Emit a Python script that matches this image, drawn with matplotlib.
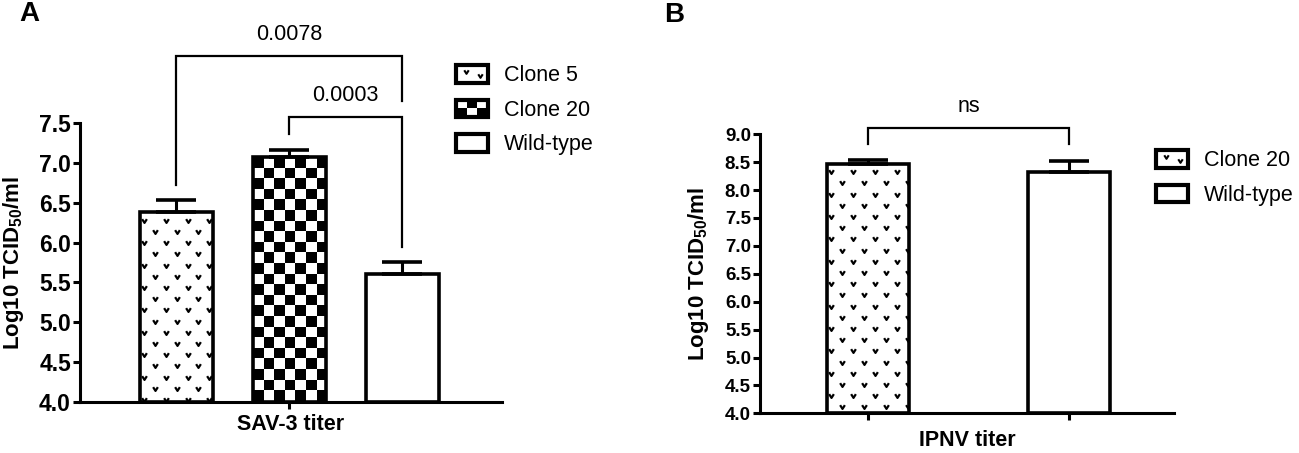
import numpy as np
import matplotlib
matplotlib.use('Agg')
import matplotlib.pyplot as plt
from matplotlib.patches import Patch, Rectangle
from matplotlib.lines import Line2D
from matplotlib.path import Path
from matplotlib.legend_handler import HandlerBase

plt.rcParams['font.family'] = ['Liberation Sans', 'DejaVu Sans']
plt.rcParams['mathtext.fontset'] = 'custom'
plt.rcParams['mathtext.rm'] = 'Liberation Sans'
plt.rcParams['mathtext.bf'] = 'Liberation Sans:bold'

# SAV-3 panel
sav_groups = ['Clone 5', 'Clone 20', 'Wild-type']
sav_means = [6.38, 7.08, 5.60]
sav_err = [0.16, 0.09, 0.16]
sav_fill = ['dots', 'checker', 'plain']
sav_pairs = [(0, 2), (1, 2)]
sav_legs = [(6.73, 7.78), (7.37, 5.95)]
sav_tops = [8.35, 7.585]
sav_pvals = ['0.0078', '0.0003']

# IPNV panel
ipnv_groups = ['Clone 20', 'Wild-type']
ipnv_means = [8.47, 8.33]
ipnv_err = [0.07, 0.20]
ipnv_fill = ['dots', 'plain']
ipnv_pairs = [(0, 1)]
ipnv_legs = [(8.83, 8.83)]
ipnv_tops = [9.12]
ipnv_pvals = ['ns']

W, H = 1299, 453
vmark = Path([(-1, 1), (0, -0.6), (1, 1)], [Path.MOVETO, Path.LINETO, Path.LINETO])


def px_per_unit(ax):
    p0 = ax.transData.transform((0, 0))
    p1 = ax.transData.transform((1, 1))
    return p1[0] - p0[0], p1[1] - p0[1]


def fill_dots(ax, bar):
    sx, sy = px_per_unit(ax)
    dx, dy = 21.8 / sx, 11.2 / sy
    x0, x1 = bar.get_x(), bar.get_x() + bar.get_width()
    ymin = bar.get_y()
    top = ymin + bar.get_height()
    xs, ys = [], []
    row = 0
    y = top - dy * 0.75
    while y > ymin:
        off = 0.0 if row % 2 == 0 else dx / 2
        x = x0 + dx * 0.2 + off
        while x < x1:
            xs.append(x)
            ys.append(y)
            x += dx
        y -= dy
        row += 1
    ln, = ax.plot(xs, ys, ls='none', marker=vmark, ms=3.4, mfc='none', mec='black',
                  mew=1.6, zorder=2.5)
    ln.set_clip_path(bar)


def fill_checker(ax, bar):
    sx, sy = px_per_unit(ax)
    cw, ch = 10.6 / sx, 10.6 / sy
    x0 = bar.get_x()
    ymin = bar.get_y()
    top = ymin + bar.get_height()
    nc = int(np.ceil(bar.get_width() / cw))
    nr = int(np.ceil((top - ymin) / ch))
    board = (np.add.outer(np.arange(nr), np.arange(nc)) % 2 == 0).astype(float)
    im = ax.imshow(board, cmap='gray_r', vmin=0, vmax=1, interpolation='nearest',
                   extent=(x0, x0 + nc * cw, top - nr * ch, top), origin='upper',
                   aspect='auto', zorder=2.5)
    im.set_clip_path(bar)


class Swatch(HandlerBase):
    def __init__(self, kind):
        super().__init__()
        self.kind = kind

    def create_artists(self, legend, orig_handle, xdescent, ydescent, width, height,
                       fontsize, trans):
        x0, y0 = -xdescent, -ydescent
        arts = [Rectangle((x0, y0), width, height, facecolor='white', edgecolor='none',
                          transform=trans)]
        if self.kind == 'checker':
            cw, ch = width / 3, height / 2
            for i in range(3):
                for j in range(2):
                    if (i + j) % 2 == 0:
                        arts.append(Rectangle((x0 + i * cw, y0 + j * ch), cw, ch,
                                              facecolor='black', edgecolor='none',
                                              transform=trans))
        elif self.kind == 'dots':
            arts.append(Line2D([x0 + width * 0.3, x0 + width * 0.75],
                               [y0 + height * 0.62, y0 + height * 0.35], ls='none',
                               marker=vmark, ms=3.2, mfc='none', mec='black', mew=1.5,
                               transform=trans))
        arts.append(Rectangle((x0, y0), width, height, fill=False, edgecolor='black',
                              lw=3.0, transform=trans))
        return arts


def panel(rect, groups, means, err, fills, width, xlim, ylim, xticks, tick_fs,
          pairs, legs, tops, pvals, xlabel, xlabel_y, ylabel_x, leg_anchor):
    ax = fig.add_axes(rect)
    x = np.arange(len(groups))
    ax.set_xlim(*xlim)
    ax.set_ylim(*ylim)
    heights = np.array(means) - ylim[0]
    bars = ax.bar(x, heights, bottom=ylim[0], width=width, color='white',
                  edgecolor='none', zorder=2)
    for b, kind in zip(bars, fills):
        if kind == 'dots':
            fill_dots(ax, b)
        elif kind == 'checker':
            fill_checker(ax, b)
    ax.bar(x, heights, bottom=ylim[0], width=width, fill=False, edgecolor='black',
           linewidth=2.6, zorder=3)
    ax.errorbar(x, means, yerr=[np.zeros(len(err)), err], fmt='none', ecolor='black',
                elinewidth=2.2, capsize=14.5, capthick=2.6, zorder=2.8)
    ax.set_xlim(*xlim)
    ax.set_ylim(*ylim)

    for (i, j), (yl, yr), top, p in zip(pairs, legs, tops, pvals):
        ax.plot([i, i, j, j], [yl, top, top, yr], color='black', lw=1.6,
                clip_on=False, zorder=4, solid_joinstyle='miter')
        ax.annotate(p, ((i + j) / 2, top), xytext=(0, 15.5), textcoords='offset points',
                    ha='center', va='center', fontsize=15.5, annotation_clip=False)

    for s in ['top', 'right']:
        ax.spines[s].set_visible(False)
    for s in ['left', 'bottom']:
        ax.spines[s].set_linewidth(2.2)
    ticks = np.arange(ylim[0], ylim[1] + 0.01, 0.5)
    ax.set_yticks(ticks)
    ax.set_yticklabels([f'{v:.1f}' for v in ticks], fontsize=tick_fs, fontweight='bold')
    ax.set_xticks(xticks)
    ax.set_xticklabels([''] * len(xticks))
    ax.tick_params(axis='both', width=2.2, length=5, pad=1.5)
    ax.set_xlabel(xlabel, fontsize=15.5, fontweight='bold')
    ax.xaxis.set_label_coords(0.5, xlabel_y)
    ax.set_ylabel(r'Log10 TCID$_\mathbf{50}$/ml', fontsize=16, fontweight='bold')
    ax.yaxis.set_label_coords(ylabel_x, 0.5)

    handles = [Patch(facecolor='white', edgecolor='black', label=g) for g in groups]
    hmap = {h: Swatch(k) for h, k in zip(handles, fills)}
    ax.legend(handles=handles, handler_map=hmap, loc='upper left',
              bbox_to_anchor=leg_anchor, bbox_transform=fig.transFigure,
              frameon=False, fontsize=15.5, borderpad=0, borderaxespad=0,
              handlelength=1.48, handleheight=0.88, handletextpad=0.75,
              labelspacing=0.62)
    return ax


fig = plt.figure(figsize=(W / 100, H / 100), dpi=100)

panel([80 / W, 1 - 401.7 / H, 422 / W, 278.4 / H], sav_groups, sav_means, sav_err,
      sav_fill, 0.646, (-0.85, 2.885), (4.0, 7.5), [1], 16.5,
      sav_pairs, sav_legs, sav_tops, sav_pvals, 'SAV-3 titer', -0.045, -0.128,
      (456 / W, 1 - 65 / H))

panel([760 / W, 1 - 413.3 / H, 414 / W, 279 / H], ipnv_groups, ipnv_means, ipnv_err,
      ipnv_fill, 0.41, (-0.538, 1.524), (4.0, 9.0), [0, 1], 13.5,
      ipnv_pairs, ipnv_legs, ipnv_tops, ipnv_pvals, 'IPNV titer', -0.06, -0.118,
      (1156 / W, 1 - 150 / H))

fig.text(29.5 / W, 1 - 14 / H, 'A', fontsize=20, fontweight='bold', ha='center', va='center')
fig.text(674.5 / W, 1 - 14.5 / H, 'B', fontsize=20, fontweight='bold', ha='center', va='center')

fig.savefig('out.png', dpi=100)
